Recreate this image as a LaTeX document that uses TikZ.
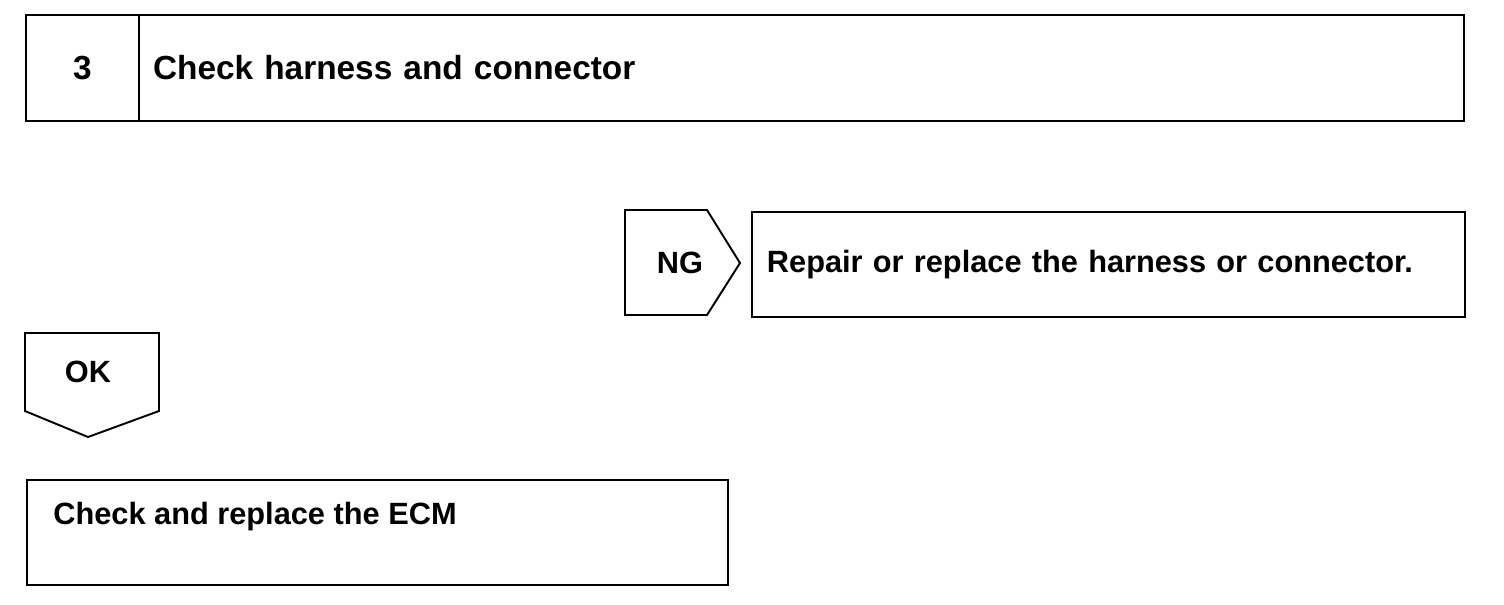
\documentclass[tikz,border=0pt]{standalone}
\usepackage{fontspec}
\setmainfont{Liberation Sans}
\usepackage{tikz}
\usetikzlibrary{positioning,calc}
\tikzset{
  celda/.style={rectangle, draw=black, line width=1.1pt, inner sep=0pt, outer sep=0pt,
    minimum height=2.12cm, font=\bfseries\fontsize{19}{23}\selectfont},
  caja/.style={rectangle, draw=black, line width=1.1pt, inner xsep=0.3cm,
    minimum height=2.10cm, align=left, font=\bfseries\fontsize{17.5}{21}\selectfont},
  marca/.style={draw=black, line width=1.1pt, line join=miter},
  etq/.style={font=\bfseries\fontsize{17.5}{21}\selectfont, inner sep=0pt},
}
\begin{document}
\begin{tikzpicture}
  \useasboundingbox (0,0) rectangle (30.08,-12.08);
  % cabecera del paso
  \node[celda, anchor=north west, minimum width=2.26cm] (num) at (0.52,-0.30) {3};
  \node[celda, right=0pt of num, minimum width=26.5cm, text width=25.94cm,
    inner xsep=0.28cm, align=left] (titulo) {Check harness and connector};
  % rama NG
  \coordinate (ng1) at (12.50,-4.20);
  \coordinate (ng2) at (14.14,-4.20);
  \coordinate (ng3) at (14.80,-5.26);
  \coordinate (ng4) at (14.14,-6.30);
  \coordinate (ng5) at (12.50,-6.30);
  \draw[marca] (ng1) -- (ng2) -- (ng3) -- (ng4) -- (ng5) -- cycle;
  \node[etq] (ng) at (13.60,-5.26) {NG};
  \node[caja, anchor=north west, minimum width=14.26cm, text width=13.66cm]
    (reparar) at (15.02,-4.22) {Repair or replace the harness or connector.};
  % rama OK
  \coordinate (ok1) at (0.50,-6.66);
  \coordinate (ok2) at (3.18,-6.66);
  \coordinate (ok3) at (3.18,-8.22);
  \coordinate (ok4) at (1.76,-8.74);
  \coordinate (ok5) at (0.50,-8.22);
  \draw[marca] (ok1) -- (ok2) -- (ok3) -- (ok4) -- (ok5) -- cycle;
  \node[etq] (ok) at (1.76,-7.44) {OK};
  \node[caja, anchor=north west, minimum width=14.02cm] (ecm) at (0.52,-9.58) {};
  \node[etq, anchor=west] (ecmtxt) at ($(ecm.north west)+(0.54,-0.76)$)
    {Check and replace the ECM};
\end{tikzpicture}
\end{document}
